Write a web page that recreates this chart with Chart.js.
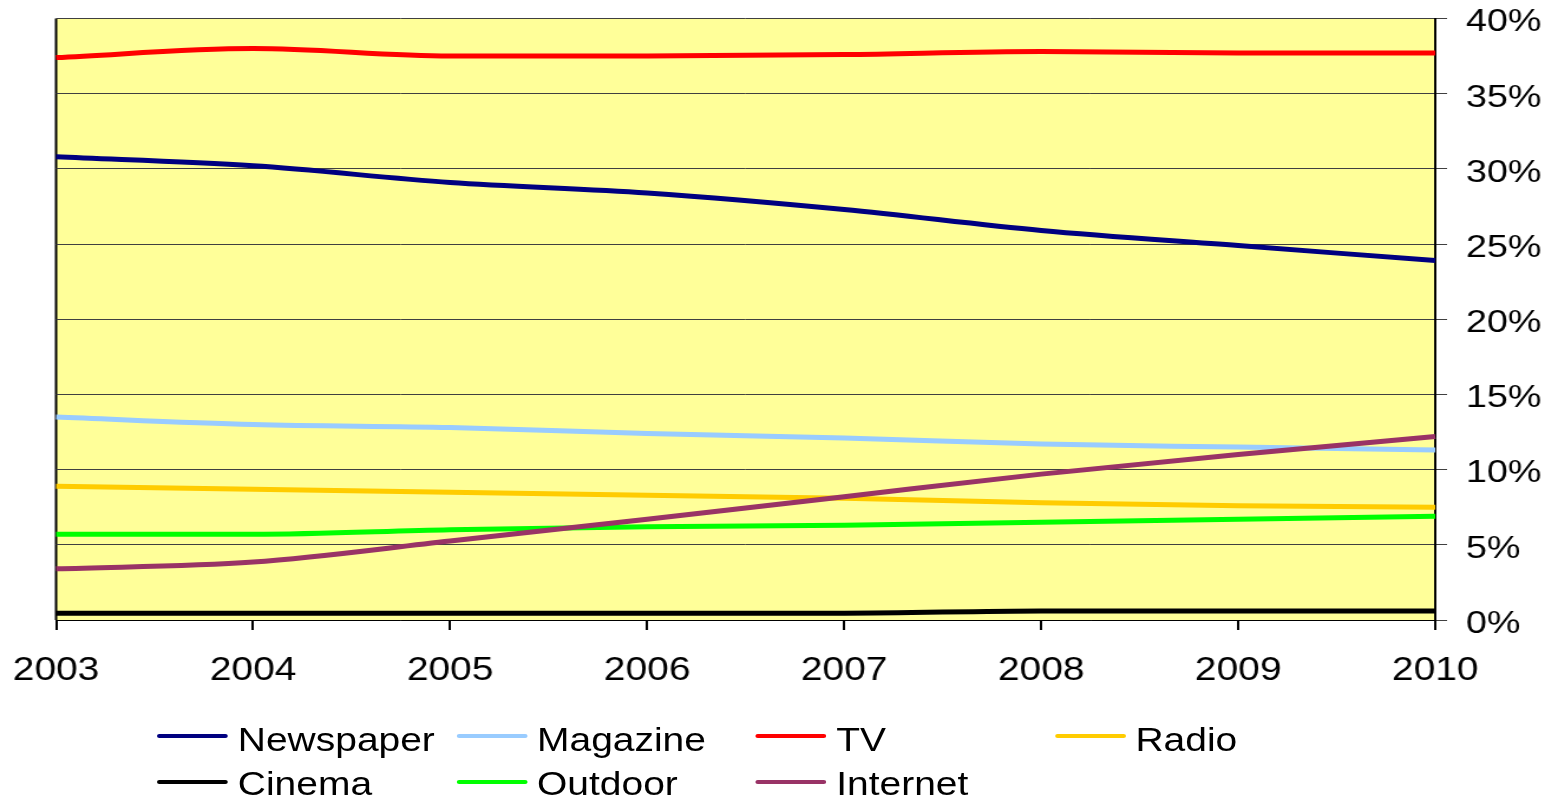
<!DOCTYPE html>
<html>
<head>
<meta charset="utf-8">
<script src="https://cdn.jsdelivr.net/npm/chart.js@4/dist/chart.umd.min.js"></script>
<style>
  html, body { margin: 0; padding: 0; background: #fff; overflow: hidden; }
  /* the reference has its text stretched sideways, so the whole chart is drawn narrower and scaled */
  #wrap { position: relative; width: 1320px; height: 800px; transform: scaleX(1.1803); transform-origin: 0 0; }
  #mediaChart { position: absolute; left: 0; top: 0; }
  .lg-line { position: absolute; height: 4px; border-radius: 2px; width: 60px; }
  .lg-text { position: absolute; font: 33px "Liberation Sans", Arial, sans-serif; line-height: 40px; height: 40px; color: #000; white-space: nowrap; }
</style>
</head>
<body>
<div id="wrap">
  <canvas id="mediaChart" width="1320" height="800"></canvas>
  <div id="legend"></div>
</div>
<script>
// DATA (share of ad spend, %)
const years = ["2003", "2004", "2005", "2006", "2007", "2008", "2009", "2010"];
const newspaper = [30.8, 30.2, 29.1, 28.4, 27.3, 25.9, 24.9, 23.9];
const magazine  = [13.5, 13.0, 12.8, 12.4, 12.1, 11.7, 11.5, 11.3];
const tv        = [37.4, 38.0, 37.5, 37.5, 37.6, 37.8, 37.7, 37.7];
const radio     = [8.9, 8.7, 8.5, 8.3, 8.1, 7.8, 7.6, 7.5];
const cinema    = [0.45, 0.45, 0.45, 0.45, 0.45, 0.6, 0.6, 0.6];
const outdoor   = [5.7, 5.7, 6.0, 6.2, 6.3, 6.5, 6.7, 6.9];
const internet  = [3.4, 3.85, 5.25, 6.7, 8.2, 9.7, 11.0, 12.2];

const seriesNames  = ["Newspaper", "Magazine", "TV", "Radio", "Cinema", "Outdoor", "Internet"];
const seriesValues = [newspaper, magazine, tv, radio, cinema, outdoor, internet];
const seriesColors = ["#000080", "#99CCFF", "#FF0000", "#FFCC00", "#000000", "#00FF00", "#993366"];

const FONT = "'Liberation Sans', Arial, sans-serif";

// plot background + left axis line
const plotBg = {
  id: "plotBg",
  beforeDraw(chart) {
    const { ctx, chartArea: a } = chart;
    ctx.save();
    ctx.fillStyle = "#FFFF99";
    ctx.fillRect(a.left, a.top, a.right - a.left, a.bottom - a.top);
    ctx.strokeStyle = "#000";
    ctx.lineWidth = 2;
    ctx.beginPath();
    ctx.moveTo(a.left, a.top);
    ctx.lineTo(a.left, a.bottom);
    ctx.stroke();
    ctx.restore();
  },
};

const datasets = seriesNames.map((name, i) => ({
  label: name,
  data: seriesValues[i],
  borderColor: seriesColors[i],
  backgroundColor: seriesColors[i],
  borderWidth: 5,
  pointRadius: 0,
  cubicInterpolationMode: "monotone",
  order: name === "Internet" ? -1 : i, // internet sits on top of the others
}));

const ctx = document.getElementById("mediaChart").getContext("2d");
const mediaChart = new Chart(ctx, {
  type: "line",
  data: { labels: years, datasets: datasets },
  options: {
    responsive: false,
    animation: false,
    layout: { padding: { left: 47.5, top: 18.5, right: 0, bottom: 100 } },
    plugins: { legend: { display: false }, tooltip: { enabled: false } },
    scales: {
      x: {
        offset: false,
        grid: { drawOnChartArea: false, drawTicks: true, tickLength: 10, color: "#000", lineWidth: 2 },
        border: { color: "#000", width: 1 },
        ticks: { color: "#000", font: { family: FONT, size: 33 }, padding: 21, maxRotation: 0, autoSkip: false },
        afterFit(scale) {
          scale.height = 80;
          scale.paddingLeft = 0;
          scale.paddingRight = 0;
        },
      },
      y: {
        position: "right",
        min: 0,
        max: 40,
        grid: { color: "#404040", lineWidth: 1, tickLength: 10 },
        border: { color: "#000", width: 2 },
        ticks: {
          stepSize: 5,
          color: "#000",
          padding: 16,
          autoSkip: false,
          font: { family: FONT, size: 32, lineHeight: 0.25 },
          // empty first line nudges the label a few px down, as in the reference
          callback: (v) => ["", v + "%"],
        },
        afterFit(scale) {
          scale.width = 104;
          scale.paddingTop = 0;
          scale.paddingBottom = 0;
        },
      },
    },
  },
  plugins: [plotBg],
});

// LEGEND (4 columns, 2 rows, like the reference)
const legend = document.getElementById("legend");
const colX = [133, 386.5, 640, 893.5];
const rowLineY = [734, 780];
const rowTextY = [720, 764];
seriesNames.forEach((name, i) => {
  const col = i % 4, row = Math.floor(i / 4);
  const line = document.createElement("div");
  line.className = "lg-line";
  line.style.left = colX[col] + "px";
  line.style.top = rowLineY[row] + "px";
  line.style.background = seriesColors[i];
  legend.appendChild(line);

  const txt = document.createElement("div");
  txt.className = "lg-text";
  txt.style.left = (colX[col] + 68.5) + "px";
  txt.style.top = rowTextY[row] + "px";
  txt.textContent = name;
  legend.appendChild(txt);
});
</script>
</body>
</html>
